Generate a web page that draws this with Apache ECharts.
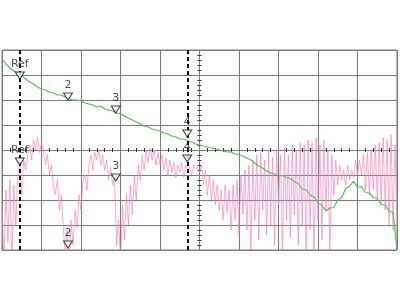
<!DOCTYPE html>
<html><head><meta charset="utf-8">
<script src="https://cdn.jsdelivr.net/npm/echarts@6/dist/echarts.min.js"></script>
<style>html,body{margin:0;padding:0;background:#fff}#c{width:400px;height:300px}</style>
</head><body><div id="c"></div>
<script>
// trace values in screen divisions (0 = bottom, 8 = top), sampled across 10 horizontal divisions
const greenStep = 0.1;
const greenValues = [
  7.64,7.44,7.28,7.16,7.08,6.96,6.84,6.72,6.64,6.52,
  6.44,6.40,6.32,6.28,6.20,6.20,6.12,6.04,6.00,6.00,
  5.96,5.88,5.84,5.80,5.72,5.76,5.64,5.60,5.56,5.48,
  5.44,5.36,5.28,5.20,5.12,5.04,4.96,4.92,4.84,4.80,
  4.76,4.68,4.64,4.56,4.52,4.44,4.44,4.36,4.32,4.24,
  4.20,4.16,4.12,4.08,4.04,4.00,3.96,3.92,3.92,3.84,
  3.80,3.76,3.68,3.60,3.48,3.36,3.28,3.16,3.08,3.04,
  2.96,2.98,2.90,2.86,2.74,2.66,2.44,2.40,2.20,2.12,
  1.88,1.80,1.56,1.68,1.70,2.00,2.10,2.46,2.54,2.76,
  2.50,2.54,2.30,2.28,2.10,2.06,1.82,1.80,1.56,1.50,
  0.0
];
const pinkStep = 0.05;
const pinkValues = [
  1.8,-0.5,2.4,0.3,2.8,-0.5,2.6,1.0,3.0,
  3.4,2.2,3.6,3.2,
  3.8,4.2,3.6,4.4,4.0,4.5,3.9,4.3,
  4.0,3.4,3.8,3.0,3.4,2.6,
  2.2,2.8,1.6,2.2,1.0,
  -0.3,0.8,-0.5,1.2,0.2,
  1.6,0.9,2.2,1.6,2.8,
  3.0,2.4,3.4,3.8,3.2,3.9,
  3.6,4.0,3.4,3.8,3.2,3.6,2.8,3.3,2.6,
  2.9,0.2,1.2,-0.5,1.8,0.4,2.2,1.0,
  2.6,1.4,3.0,2.0,3.4,2.8,
  3.8,3.2,4.0,3.5,4.1,3.6,4.0,3.4,
  3.9,3.4,3.8,3.2,3.7,3.0,3.6,3.1,
  3.5,2.9,3.4,3.1,3.5,2.9,3.4,3.2,
  3.3,3.0,3.4,3.2,3.3,3.1,
  3.4,2.6,3.2,2.2,3.0,2.0,2.8,1.8,
  2.6,1.6,2.4,1.2,2.6,1.5,2.4,0.8,2.6,1.2,
  2.8,0.6,3.0,1.4,3.2,0.8,3.4,0.0,
  3.6,1.2,3.8,0.4,3.9,1.6,3.6,0.6,
  4.0,1.0,3.7,0.2,4.0,1.8,3.8,-0.3,
  4.1,1.2,3.8,0.5,4.2,1.4,4.0,0.2,
  4.3,1.0,4.2,-0.4,4.4,0.8,4.3,-0.5,
  4.5,1.2,4.2,0.4,4.4,1.6,4.0,-0.2,
  3.8,2.2,3.6,2.6,3.4,2.8,
  3.2,2.6,3.4,2.8,3.2,2.9,3.6,3.0,
  3.6,3.0,3.8,2.4,3.9,2.2,4.0,2.4,
  4.2,2.0,4.3,1.8,4.5,1.6,4.4,1.0,
  4.6,0.8,4.2,1.4
];
const markerLabels = ['Ref','2','3','4'];
const markerX = [0.45, 1.67, 2.88, 4.69];
const greenMarkerY = [6.98, 6.14, 5.62, 4.66];
const pinkMarkerY = [3.54, 0.22, 2.90, 3.66];
const cursorX = [0.45, 4.69];

const gridColor = '#7a7a7a';
const chart = echarts.init(document.getElementById('c'), null, {renderer:'canvas'});

function centerAxis(inside, isX) {
  const a = {
    type:'value', min:0, max: isX ? 10 : 8, interval:1,
    axisLine:{show:false},
    axisTick:{show:false, inside:inside},
    minorTick:{show:true, splitNumber:5, length:2, lineStyle:{color:'#333', width:1}},
    axisLabel:{show:false}, splitLine:{show:false}
  };
  if (isX) { a.position = 'bottom'; a.offset = -100; }
  else { a.position = 'left'; a.offset = -197.5; }
  return a;
}

function markerSeries(ys) {
  return {
    type:'scatter', xAxisIndex:0, yAxisIndex:0, z:10,
    symbol:'triangle', symbolRotate:180, symbolSize:[9,7],
    itemStyle:{color:'#fff', borderColor:'#111', borderWidth:1},
    label:{show:true, position:'top', distance:2, fontSize:11,
      fontFamily:'DejaVu Sans, sans-serif', color:'#222',
      formatter:(p)=>markerLabels[p.dataIndex]},
    data: markerX.map((x,i)=>[x, ys[i]]),
    silent:true
  };
}

chart.setOption({
  animation:false,
  backgroundColor:'#fff',
  grid:{left:2, right:3, top:50, bottom:50, show:true, borderColor:gridColor, borderWidth:1},
  xAxis:[
    {type:'value', min:0, max:10, interval:1, axisLine:{show:false}, axisTick:{show:false},
     axisLabel:{show:false}, splitLine:{show:true, lineStyle:{color:gridColor, width:1}}},
    centerAxis(false, true),
    centerAxis(true, true)
  ],
  yAxis:[
    {type:'value', min:0, max:8, interval:1, axisLine:{show:false}, axisTick:{show:false},
     axisLabel:{show:false}, splitLine:{show:true, lineStyle:{color:gridColor, width:1}}},
    centerAxis(false, false),
    centerAxis(true, false)
  ],
  series:[
    {type:'line', name:'pink', xAxisIndex:0, yAxisIndex:0, showSymbol:false, clip:true,
     lineStyle:{color:'#f27ab5', width:0.7, opacity:0.9},
     data: pinkValues.map((v,i)=>[i*pinkStep, v])},
    {type:'line', name:'green', xAxisIndex:0, yAxisIndex:0, showSymbol:false, clip:true,
     lineStyle:{color:'#55bd55', width:1.2},
     data: greenValues.map((v,i)=>[i*greenStep, v]),
     markLine:{silent:true, symbol:'none', label:{show:false},
       lineStyle:{color:'#111', type:[4,3], width:2},
       data: cursorX.map(x=>({xAxis:x}))}},
    markerSeries(greenMarkerY),
    markerSeries(pinkMarkerY)
  ]
});
</script>
</body></html>
